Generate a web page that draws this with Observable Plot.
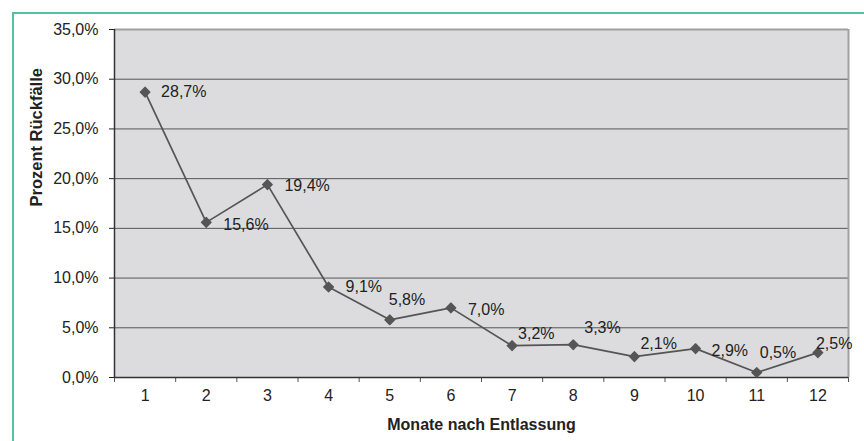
<!DOCTYPE html>
<html>
<head>
<meta charset="utf-8">
<script src="https://cdn.jsdelivr.net/npm/d3@7"></script>
<script src="https://cdn.jsdelivr.net/npm/@observablehq/plot@0.6"></script>
<style>
  html, body { margin: 0; padding: 0; background: #fff; }
  #wrap { position: relative; width: 864px; height: 441px; overflow: hidden; }
  #frame { position: absolute; left: 12px; top: 12px; width: 900px; height: 500px;
           border-top: 2px solid #4cc4a2; border-left: 2px solid #4cc4a2; box-sizing: border-box; }
  #chart { position: absolute; left: 0; top: 0; }
  svg { font-family: "Liberation Sans", Arial, sans-serif; }
</style>
</head>
<body>
<div id="wrap"><div id="frame"></div><div id="chart"></div></div>
<script>
// Data
const months = [1, 2, 3, 4, 5, 6, 7, 8, 9, 10, 11, 12];
const rates = [28.7, 15.6, 19.4, 9.1, 5.8, 7.0, 3.2, 3.3, 2.1, 2.9, 0.5, 2.5];
const yTicks = [0, 5, 10, 15, 20, 25, 30, 35];
const xLabel = "Monate nach Entlassung";
const yLabel = "Prozent Rückfälle";

// Label placement offsets (style only)
const labelDx = [16, 17, 17, 17, -1, 17, 6, 11, 6, 16, 3, -2];
const labelDy = [0, 2, 1, 0, -20, 2, -12, -17, -13, 2, -20, -9];

const fmt = d => d.toFixed(1).replace(".", ",") + "%";
const data = months.map((m, i) => ({ month: m, rate: rates[i] }));
const boundaries = d3.range(0.5, 13, 1);

const labelMarks = data.map((d, i) =>
  Plot.text([d], {
    x: "month", y: "rate", text: r => fmt(r.rate),
    textAnchor: "start", dx: labelDx[i], dy: labelDy[i],
    fontSize: 16, fill: "#222"
  })
);

const chart = Plot.plot({
  width: 864,
  height: 441,
  marginLeft: 114,
  marginRight: 16,
  marginTop: 29,
  marginBottom: 64,
  style: { fontFamily: "'Liberation Sans', Arial, sans-serif", background: "transparent" },
  x: { domain: [0.5, 12.5] },
  y: { domain: [0, 35] },
  marks: [
    Plot.frame({ fill: "#dcdcde", stroke: null }),
    Plot.ruleY(yTicks.filter(t => t > 0 && t < 35), { stroke: "#555", strokeWidth: 1 }),
    Plot.ruleY([35], { stroke: "#a0a0a0", strokeWidth: 2 }),
    Plot.ruleX([12.5], { stroke: "#a0a0a0", strokeWidth: 2 }),
    Plot.axisY({ ticks: yTicks, tickFormat: fmt, tickSize: 5, tickPadding: 11, fontSize: 16, color: "#222", label: null }),
    Plot.axisX({ ticks: boundaries, tickFormat: () => "", tickSize: 5, label: null, color: "#555" }),
    Plot.axisX({ ticks: months, tickFormat: d => String(d), tickSize: 0, tickPadding: 12, fontSize: 16, color: "#222", label: null }),
    Plot.ruleX([0.5], { stroke: "#333", strokeWidth: 1.5 }),
    Plot.ruleY([0], { stroke: "#333", strokeWidth: 1.5 }),
    Plot.line(data, { x: "month", y: "rate", stroke: "#555", strokeWidth: 1.7 }),
    Plot.dot(data, { x: "month", y: "rate", symbol: "diamond2", r: 4.4, fill: "#555", stroke: "#555", strokeWidth: 1.2, strokeLinejoin: "round" }),
    ...labelMarks,
    Plot.text([xLabel], { frameAnchor: "bottom", dy: 52, fontWeight: "bold", fontSize: 16, fill: "#222" }),
    Plot.text([yLabel], { frameAnchor: "left", dx: -78, dy: 3, rotate: -90, fontWeight: "bold", fontSize: 16.5, fill: "#222" })
  ]
});
document.getElementById("chart").appendChild(chart);
</script>
</body>
</html>
